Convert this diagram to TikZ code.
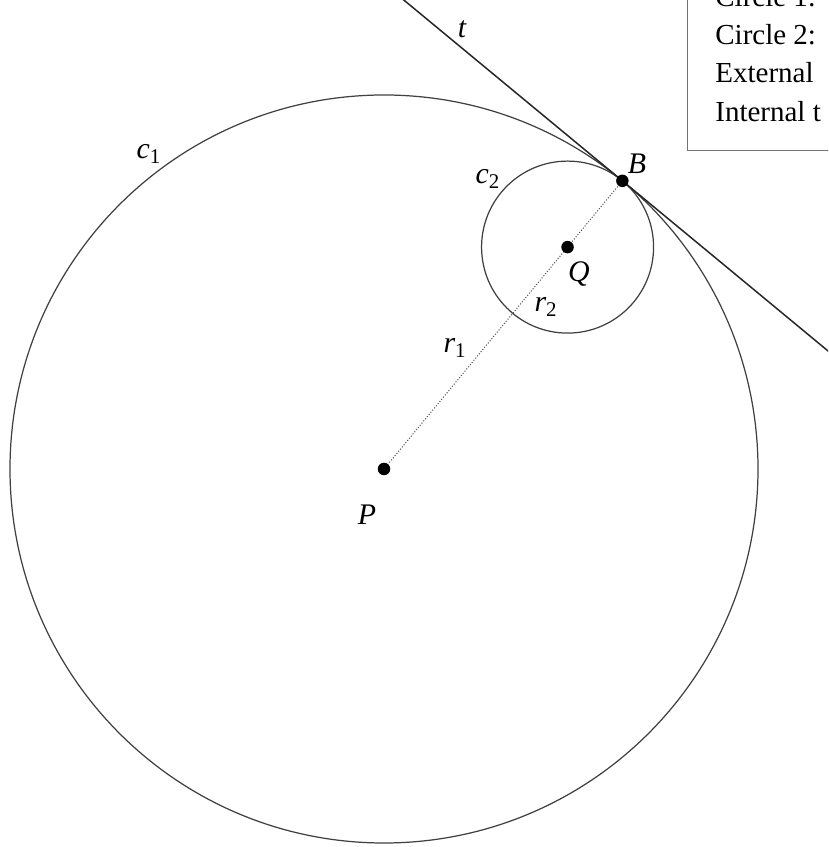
\documentclass[tikz,border=0pt]{standalone}
\usepackage{fontspec}
\setmainfont{Liberation Serif}
\usetikzlibrary{calc}
\tikzset{
  pt/.style={circle,fill=black,inner sep=0pt,minimum size=0.25cm},
  lbl/.style={font=\fontsize{17}{20}\selectfont\itshape},
  infotext/.style={anchor=base west,inner sep=0pt,font=\fontsize{16.5}{22}\selectfont}
}
\begin{document}
\begin{tikzpicture}
  \useasboundingbox (0,0) rectangle (16.56,16.94);
  \clip (0,0) rectangle (16.56,16.94);
  % centres and point of contact
  \coordinate (P) at (7.68,7.56);
  \coordinate (B) at ($(P)+(50.4:7.48)$);
  \coordinate (Q) at ($(P)+(50.4:5.76)$);
  \coordinate (t1) at ($(B)+(140.4:5.9)$);
  \coordinate (t2) at ($(B)+(-39.6:5.9)$);
  \draw [black!75,line width=0.7pt] (P) circle (7.48);
  \draw [black!75,line width=0.7pt] (Q) circle (1.72);
  \draw [black!85,line width=0.85pt] (t1) -- (t2);
  \draw [black!65,densely dotted,line width=0.6pt] (P) -- (B);
  \node [pt] (Pdot) at (P) {};
  \node [pt] (Qdot) at (Q) {};
  \node [pt] (Bdot) at (B) {};
  \node [lbl] (Plbl) at (7.34,6.64) {P};
  \node [lbl] (Qlbl) at (11.58,11.46) {Q};
  \node [lbl] (Blbl) at (12.74,13.66) {B};
  \node [lbl] (tlbl) at (9.24,16.36) {t};
  \node [lbl] (c1lbl) at (2.98,13.86) {c\textsubscript{\upshape 1}};
  \node [lbl] (c2lbl) at (9.76,13.36) {c\textsubscript{\upshape 2}};
  \node [lbl] (r1lbl) at (9.1,9.98) {r\textsubscript{\upshape 1}};
  \node [lbl] (r2lbl) at (10.92,10.8) {r\textsubscript{\upshape 2}};
  % info box, cut by the page edge
  \draw [black!55,line width=0.5pt,fill=white] (13.74,13.94) rectangle (17.5,17.5);
  \node [infotext] (info1) at (14.3,16.81) {Circle 1:};
  \node [infotext] (info2) at (14.3,16.04) {Circle 2:};
  \node [infotext] (info3) at (14.3,15.28) {External};
  \node [infotext] (info4) at (14.3,14.5) {Internal t};
\end{tikzpicture}
\end{document}
